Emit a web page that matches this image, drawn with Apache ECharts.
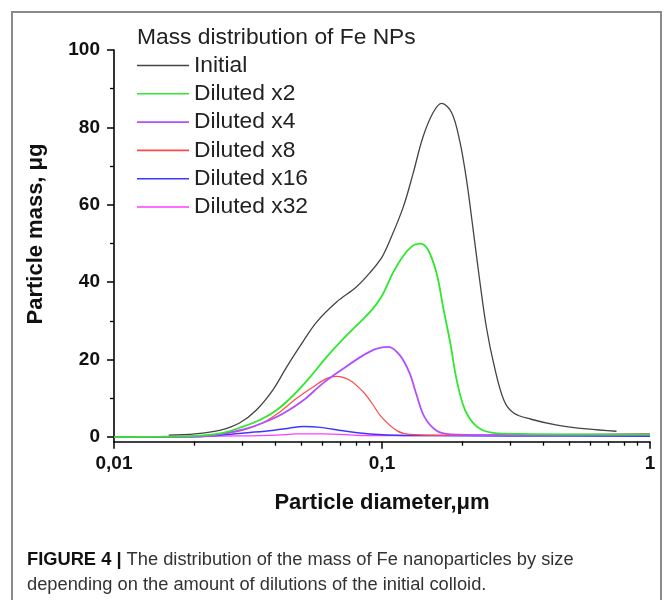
<!DOCTYPE html>
<html>
<head>
<meta charset="utf-8">
<script src="https://cdn.jsdelivr.net/npm/echarts@6.0.0/dist/echarts.min.js"></script>
<style>
  html, body { margin: 0; padding: 0; background: #fff; }
  #graph { width: 664px; height: 600px; }
</style>
</head>
<body>
<div id="graph"></div>
<script>
// values: [diameter um, mass ug]
const initial = [[0.016,0.5],[0.02,0.8],[0.025,1.8],[0.0295,3.7],[0.034,7],[0.039,12],[0.044,18],[0.05,24],
  [0.057,29.7],[0.0677,34.9],[0.08,38.7],[0.09,42.4],[0.1,46.5],[0.107,50.8],[0.12,59.4],[0.1305,68],
  [0.142,77.4],[0.155,83.8],[0.167,86.2],[0.182,83.8],[0.195,76.5],[0.207,66.2],[0.219,53.4],[0.232,40],
  [0.245,28.5],[0.262,18.5],[0.285,9.5],[0.31,6.2],[0.36,4.6],[0.45,3.1],[0.58,2.1],[0.75,1.5]];
const diluted2 = [[0.01,0],[0.015,0.1],[0.02,0.3],[0.0255,1.1],[0.0303,2.7],[0.035,4.4],[0.0405,7],[0.0467,10.8],
  [0.0539,15.5],[0.0622,20.7],[0.0718,25.4],[0.0828,29.7],[0.092,33],[0.1,36.5],[0.11,42.5],[0.12,46.8],
  [0.13,49.4],[0.138,50],[0.148,48.6],[0.16,42.2],[0.169,33.6],[0.18,24.1],[0.19,14.7],[0.204,7],[0.226,2.7],
  [0.26,1.1],[0.33,0.8],[0.5,0.7],[0.75,0.7],[1,0.7]];
const diluted4 = [[0.01,0],[0.02,0.1],[0.0228,0.3],[0.0304,2],[0.036,3.7],[0.0428,6.1],[0.0509,9.5],[0.06,13.8],
  [0.0718,17.7],[0.085,21.1],[0.095,22.8],[0.1055,23.3],[0.1167,21.1],[0.127,16.4],[0.134,11.3],[0.144,5.2],
  [0.16,1.6],[0.18,0.7],[0.25,0.5],[0.5,0.5],[1,0.5]];
const diluted8 = [[0.01,0],[0.015,0.1],[0.02,0.2],[0.025,0.8],[0.0303,1.8],[0.036,3.7],[0.0416,6.5],[0.048,10],
  [0.0555,13],[0.062,15.1],[0.0677,15.7],[0.0758,14.7],[0.085,11.7],[0.092,8.6],[0.1,5],[0.114,1.6],
  [0.127,0.7],[0.2,0.4],[0.5,0.5],[1,0.8]];
const diluted16 = [[0.01,0],[0.02,0.1],[0.03,1],[0.038,1.6],[0.045,2.3],[0.051,2.7],[0.0588,2.5],[0.0716,1.6],
  [0.09,0.8],[0.12,0.4],[0.3,0.3],[1,0.2]];
const diluted32 = [[0.01,0],[0.03,0.3],[0.0405,0.5],[0.048,0.8],[0.06,0.8],[0.07,0.7],[0.085,0.4],[0.12,0.4],
  [0.3,0.6],[0.6,0.7],[1,0.8]];

const seriesNames = ['Initial', 'Diluted x2', 'Diluted x4', 'Diluted x8', 'Diluted x16', 'Diluted x32'];
const yTicks = [0, 20, 40, 60, 80, 100];
const yMinorTicks = [10, 30, 50, 70, 90];
const xMinorTicks = [0.02,0.03,0.04,0.05,0.06,0.07,0.08,0.09,0.2,0.3,0.4,0.5,0.6,0.7,0.8,0.9];

const font = 'Liberation Sans, Arial, sans-serif';
const colors = ['#444444', '#2ee82e', '#b050ff', '#ff4a4a', '#3a3aff', '#ff3cff'];
const widths = [1.3, 1.8, 1.8, 1.2, 1.5, 1.3];
const allData = [initial, diluted2, diluted4, diluted8, diluted16, diluted32];

const chart = echarts.init(document.getElementById('graph'));

chart.setOption({
  backgroundColor: '#fff',
  animation: false,
  title: {
    text: 'Mass distribution of Fe NPs',
    left: 137, top: 26, padding: 0,
    textStyle: { fontFamily: font, fontSize: 22.8, fontWeight: 'normal', color: '#222' }
  },
  legend: {
    data: seriesNames,
    orient: 'vertical',
    left: 137, top: 54, padding: 0,
    icon: 'rect',
    itemWidth: 52, itemHeight: 1.6, itemGap: 5.3,
    textStyle: { fontFamily: font, fontSize: 22.8, color: '#222' }
  },
  grid: { left: 114, right: 14, top: 50, bottom: 158.3, outerBoundsMode: 'none' },
  xAxis: [{
    type: 'log', logBase: 10, min: 0.01, max: 1,
    position: 'bottom', offset: 0,
    name: 'Particle diameter,\u03bcm',
    nameLocation: 'middle', nameGap: 50,
    nameTextStyle: { fontFamily: font, fontSize: 22, fontWeight: 'bold', color: '#111' },
    axisLine: { show: true, onZero: false, lineStyle: { color: '#000', width: 1.6 } },
    axisTick: { show: true, length: 7, lineStyle: { color: '#000', width: 1.5 } },
    axisLabel: {
      fontFamily: font, fontSize: 19, fontWeight: 'bold', color: '#111', margin: 13,
      formatter: v => String(+v.toPrecision(3)).replace('.', ',')
    },
    splitLine: { show: false }, minorSplitLine: { show: false }
  }, {
    // minor ticks of the log axis, at log10 positions
    type: 'value', min: -2, max: 0, position: 'bottom', offset: 0,
    axisLine: { show: false, onZero: false },
    axisTick: { show: true, length: 4, customValues: xMinorTicks.map(v => Math.log10(v)),
      lineStyle: { color: '#000', width: 1.3 } },
    axisLabel: { show: false },
    splitLine: { show: false }
  }],
  yAxis: [{
    type: 'value', min: -1.2, max: 100,
    position: 'left', offset: 0,
    axisLine: { show: true, onZero: false, lineStyle: { color: '#000', width: 1.6 } },
    axisTick: { show: true, length: 7, customValues: yTicks, lineStyle: { color: '#000', width: 1.5 } },
    axisLabel: { customValues: yTicks, fontFamily: font, fontSize: 19, fontWeight: 'bold', color: '#111', margin: 14 },
    splitLine: { show: false }
  }, {
    type: 'value', min: -1.2, max: 100, position: 'left', offset: 0,
    axisLine: { show: false, onZero: false },
    axisTick: { show: true, length: 4, customValues: yMinorTicks, lineStyle: { color: '#000', width: 1.3 } },
    axisLabel: { show: false },
    splitLine: { show: false }
  }],
  series: seriesNames.map((name, i) => ({
    name: name,
    type: 'line',
    xAxisIndex: 0, yAxisIndex: 0,
    symbol: 'none',
    smooth: 0.35,
    data: allData[i],
    itemStyle: { color: colors[i] },
    lineStyle: { color: colors[i], width: widths[i] },
    z: 10 - i
  })),
  graphic: [{
    type: 'rect', z: -10,
    shape: { x: 12, y: 12, width: 649, height: 640 },
    style: { fill: 'none', stroke: '#8a8a8a', lineWidth: 2 }
  }, {
    type: 'text', x: 36, y: 234, rotation: Math.PI / 2,
    style: {
      text: 'Particle mass, \u03bcg',
      font: 'bold 22px Liberation Sans, Arial, sans-serif',
      fill: '#111', align: 'center', verticalAlign: 'middle'
    }
  }, {
    type: 'text', x: 27, y: 547,
    style: {
      text: '{b|FIGURE 4 |} The distribution of the mass of Fe nanoparticles by size\ndepending on the amount of dilutions of the initial colloid.',
      font: '18.3px Liberation Sans, Arial, sans-serif',
      fill: '#333', lineHeight: 25,
      rich: {
        b: { font: 'bold 18.3px Liberation Sans, Arial, sans-serif', fill: '#111', lineHeight: 25 }
      }
    }
  }]
});
</script>
</body>
</html>
